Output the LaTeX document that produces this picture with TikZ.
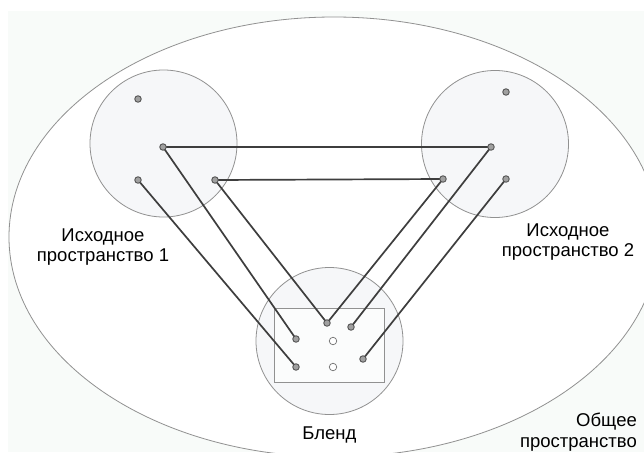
\documentclass[tikz,border=0pt]{standalone}
\usepackage{fontspec}
\setmainfont{Liberation Sans}
\definecolor{bgtint}{RGB}{248,251,249}
\definecolor{edgegrey}{RGB}{145,145,145}
\definecolor{spacefill}{RGB}{246,247,249}
\definecolor{rectfill}{RGB}{251,252,252}
\definecolor{dotedge}{RGB}{85,85,85}
\definecolor{dotfill}{RGB}{160,160,160}
\definecolor{wdotedge}{RGB}{110,110,110}
\definecolor{linkcol}{RGB}{62,62,62}
\begin{document}
\begin{tikzpicture}[x=1pt,y=-1pt,
  space/.style={circle,draw=edgegrey,line width=0.8pt,
    fill=spacefill,minimum size=147pt,inner sep=0pt},
  dot/.style={circle,draw=dotedge,line width=0.9pt,
    fill=dotfill,minimum size=6.5pt,inner sep=0pt},
  wdot/.style={circle,draw=wdotedge,line width=0.7pt,
    fill=white,minimum size=7.5pt,inner sep=0pt},
  link/.style={draw=linkcol,line width=1.7pt},
  lbl/.style={font=\fontsize{18.5}{20.5}\selectfont,align=center,inner sep=0pt,text=black}
]
\useasboundingbox (0,0) rectangle (644,452);
\clip (0,0) rectangle (644,452);
\fill[white] (0,0) rectangle (644,452);
\fill[bgtint] (8,11) rectangle (644,452);
% common space
\draw[draw=edgegrey,line width=0.8pt,fill=white] (334,237) ellipse [x radius=325,y radius=220];
% input spaces and blend
\node[space] (s1) at (163.5,143.5) {};
\node[space] (s2) at (495,144) {};
\node[space] (bl) at (329.5,341) {};
\node[draw=edgegrey,line width=0.8pt,fill=rectfill,
  minimum width=110pt,minimum height=74pt,inner sep=0pt] (rect) at (329,345) {};
% links
\coordinate (pa2) at (163,147);
\coordinate (pa3) at (138,180);
\coordinate (pa4) at (215,180);
\coordinate (pb2) at (491,147);
\coordinate (pb3) at (443,179);
\coordinate (pb4) at (506,179);
\coordinate (pc1) at (327,323);
\coordinate (pc2) at (351,327);
\coordinate (pc3) at (296,339);
\coordinate (pc5) at (363,359);
\coordinate (pc6) at (296,367);
\draw[link] (pa2) -- (pb2);
\draw[link] (pa4) -- (pb3);
\draw[link] (pa3) -- (pc6);
\draw[link] (pa2) -- (pc3);
\draw[link] (pa4) -- (pc1);
\draw[link] (pb2) -- (pc2);
\draw[link] (pb3) -- (pc1);
\draw[link] (pb4) -- (pc5);
% dots
\node[dot] (a1) at (138,99) {};
\node[dot] (a2) at (pa2) {};
\node[dot] (a3) at (pa3) {};
\node[dot] (a4) at (pa4) {};
\node[dot] (b1) at (506,92) {};
\node[dot] (b2) at (pb2) {};
\node[dot] (b3) at (pb3) {};
\node[dot] (b4) at (pb4) {};
\node[dot] (c1) at (pc1) {};
\node[dot] (c2) at (pc2) {};
\node[dot] (c3) at (pc3) {};
\node[wdot] (c4) at (333,341) {};
\node[dot] (c5) at (pc5) {};
\node[dot] (c6) at (pc6) {};
\node[wdot] (c7) at (333,367) {};
% labels
\node[lbl] (l1) at (103,247) {Исходное\\пространство 1};
\node[lbl] (l2) at (568,242) {Исходное\\пространство 2};
\node[lbl] (l3) at (329.5,435) {Бленд};
\node[lbl,align=right,anchor=east] (l4) at (637,432) {Общее\\пространство};
\end{tikzpicture}
\end{document}
